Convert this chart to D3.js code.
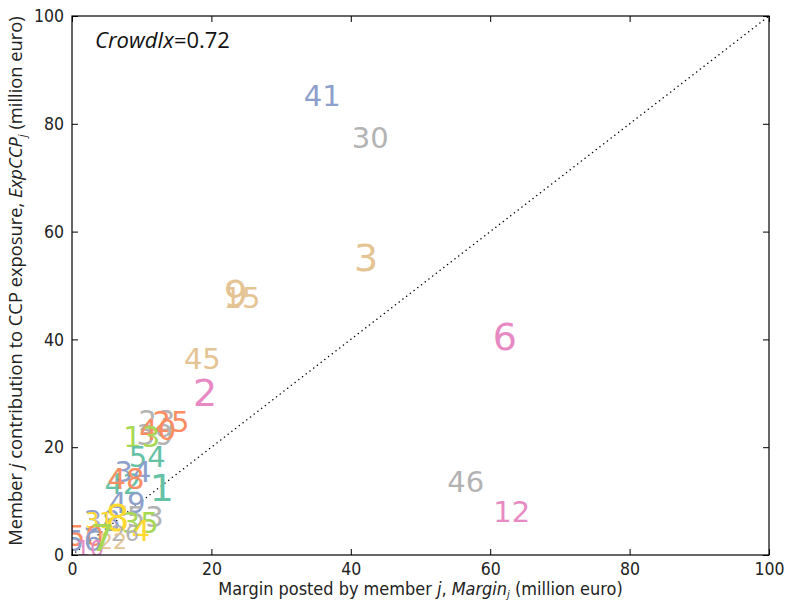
<!DOCTYPE html>
<html>
<head>
<meta charset="utf-8">
<script src="https://cdn.jsdelivr.net/npm/d3@7"></script>
<style>
  body { margin: 0; background: #fff; }
  .tick text { font-family: "DejaVu Sans Condensed", "Liberation Sans Narrow", sans-serif; font-stretch: condensed; }
</style>
</head>
<body>
<script>
// member ids, margin (x) and exposure contribution (y), colour group, label size group
var members = ["41","30","3","15","9","45","2","6","46","12",
               "23","39","25","40","13","54","42","34","48","1",
               "49","53","35","38","31","8","4","26","50","56",
               "10","22","7"];
var margin  = [35.9, 42.8, 42.2, 24.4, 23.5, 18.7, 19.1, 62.1, 56.5, 63.1,
               12.2, 11.9, 14.2, 12.3, 10.0, 10.8, 7.3, 8.75, 7.75, 12.9,
               7.9, 10.5, 9.8, 4.3, 3.9, 6.5, 9.9, 7.6, 1.9, 1.7,
               2.6, 5.9, 4.3];
var expCCP  = [85.3, 77.4, 55.3, 47.7, 48.6, 36.5, 30.2, 40.6, 13.7, 8.0,
               24.9, 22.4, 24.7, 23.2, 21.9, 18.2, 13.2, 15.4, 14.1, 12.6,
               9.8, 7.05, 6.1, 6.3, 6.5, 7.05, 4.45, 4.1, 3.6, 2.6,
               1.3, 2.6, 3.3];
var colour  = [2, 7, 6, 6, 6, 6, 3, 3, 7, 3,
               7, 7, 1, 1, 4, 0, 0, 2, 1, 0,
               2, 7, 4, 2, 5, 5, 5, 7, 1, 2,
               3, 6, 4];
var sizeGrp = [1, 1, 2, 1, 2, 1, 2, 2, 1, 1,
               1, 1, 1, 1, 1, 1, 1, 1, 1, 2,
               1, 1, 1, 1, 0, 2, 1, 0, 1, 1,
               0, 0, 2];
var xTicks = [0, 20, 40, 60, 80, 100];
var yTicks = [0, 20, 40, 60, 80, 100];
var crowdIx = 0.72;

var W = 785, H = 602;
var pl = 72, pr = 769, pt = 16, pb = 555;

var svg = d3.select("body").append("svg")
    .attr("width", W)
    .attr("height", H);

var x = d3.scaleLinear().domain([0, 100]).range([pl, pr]);
var y = d3.scaleLinear().domain([0, 100]).range([pb, pt]);
var fill = d3.scaleOrdinal().domain(d3.range(8)).range(d3.schemeSet2);
var fsize = d3.scaleOrdinal().domain([0, 1, 2]).range([22, 29, 38]);

var data = members.map(function(m, i) {
  return {id: m, x: margin[i], y: expCCP[i], c: colour[i], s: sizeGrp[i]};
});

// scale a text's font size so it spans a given width
function fit(sel, target) {
  var fs = parseFloat(sel.style("font-size"));
  var len = sel.node().getComputedTextLength();
  if (len > 0) sel.style("font-size", (fs * target / len) + "px");
}

svg.append("clipPath").attr("id", "clip")
  .append("rect").attr("x", pl).attr("y", pt)
  .attr("width", pr - pl).attr("height", pb - pt);

// diagonal
svg.append("line")
    .attr("x1", x(0)).attr("y1", y(0))
    .attr("x2", x(100)).attr("y2", y(100))
    .attr("stroke", "#000")
    .attr("stroke-width", 1.4)
    .attr("stroke-linecap", "round")
    .attr("stroke-dasharray", "0.1,4.6");

// member labels
svg.append("g")
    .attr("clip-path", "url(#clip)")
  .selectAll("text")
    .data(data)
  .enter().append("text")
    .attr("x", function(d) { return x(d.x); })
    .attr("y", function(d) { return y(d.y) + 0.36 * fsize(d.s); })
    .attr("text-anchor", "middle")
    .style("font-family", "DejaVu Sans")
    .style("font-size", function(d) { return fsize(d.s) + "px"; })
    .attr("fill", function(d) { return fill(d.c); })
    .text(function(d) { return d.id; });

// axes, ticks inward on all sides
var tickFont = 17.5;
svg.append("g")
    .attr("transform", "translate(0," + pb + ")")
    .call(d3.axisBottom(x).tickValues(xTicks).tickSizeInner(-6).tickSizeOuter(0).tickPadding(8));
svg.append("g")
    .attr("transform", "translate(0," + pt + ")")
    .call(d3.axisTop(x).tickValues(xTicks).tickSizeInner(-6).tickSizeOuter(0).tickFormat(""));
svg.append("g")
    .attr("transform", "translate(" + pl + ",0)")
    .call(d3.axisLeft(y).tickValues(yTicks).tickSizeInner(-6).tickSizeOuter(0).tickPadding(8));
svg.append("g")
    .attr("transform", "translate(" + pr + ",0)")
    .call(d3.axisRight(y).tickValues(yTicks).tickSizeInner(-6).tickSizeOuter(0).tickFormat(""));

svg.selectAll(".domain").remove();
svg.selectAll(".tick line").attr("stroke", "#000").attr("stroke-width", 1);
svg.selectAll(".tick text")
    .style("font-size", tickFont + "px")
    .attr("fill", "#222");

svg.append("rect")
    .attr("x", pl).attr("y", pt)
    .attr("width", pr - pl).attr("height", pb - pt)
    .attr("fill", "none")
    .attr("stroke", "#000")
    .attr("stroke-width", 1.2);

// CrowdIx annotation
var ann = svg.append("text")
    .attr("x", 95).attr("y", 48)
    .style("font-family", "Open Sans, sans-serif")
    .style("font-size", "20px")
    .attr("fill", "#111");
ann.append("tspan").style("font-style", "italic").text("CrowdIx");
ann.append("tspan").text("=" + crowdIx);
fit(ann, 135);

// x label
var xl = svg.append("text")
    .attr("x", (pl + pr) / 2)
    .attr("y", 595)
    .attr("text-anchor", "middle")
    .style("font-family", "DejaVu Sans Condensed, Liberation Sans Narrow, sans-serif")
    .style("font-stretch", "condensed")
    .style("font-size", "17px")
    .attr("fill", "#222");
xl.append("tspan").text("Margin posted by member ");
xl.append("tspan").style("font-style", "italic").text("j");
xl.append("tspan").text(", ");
xl.append("tspan").style("font-style", "italic").text("Margin");
xl.append("tspan").style("font-style", "italic").style("font-size", "11px").attr("dy", 2.5).text("j");
xl.append("tspan").attr("dy", -2.5).text(" (million euro)");
fit(xl, 405);

// y label
var yl = svg.append("text")
    .attr("transform", "translate(22," + 281 + ")rotate(-90)")
    .attr("text-anchor", "middle")
    .style("font-family", "Open Sans, sans-serif")
    .style("font-size", "16px")
    .attr("fill", "#222");
yl.append("tspan").text("Member ");
yl.append("tspan").style("font-style", "italic").text("j");
yl.append("tspan").text(" contribution to CCP exposure, ");
yl.append("tspan").style("font-style", "italic").text("ExpCCP");
yl.append("tspan").style("font-style", "italic").style("font-size", "11px").attr("dy", 4).text("j");
yl.append("tspan").attr("dy", -4).text(" (million euro)");
fit(yl, 530);
</script>
</body>
</html>
